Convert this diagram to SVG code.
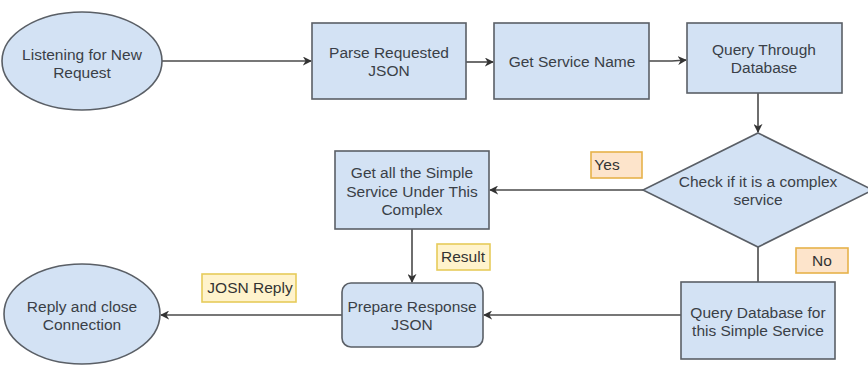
<svg xmlns="http://www.w3.org/2000/svg" width="868" height="365" viewBox="0 0 868 365">
  <style>
    .node { fill: #d3e2f4; stroke: #5a5f66; stroke-width: 1.6; }
    .txt { font-family: "Liberation Sans", Arial, sans-serif; font-size: 15.5px; fill: #3a3f47; text-anchor: middle; }
    .edge { fill: none; stroke: #4a4a4a; stroke-width: 1.6; }
    .lbl-orange { fill: #fde4cb; stroke: #e7b24a; stroke-width: 1.6; }
    .lbl-yellow { fill: #fff3cc; stroke: #e6cb5a; stroke-width: 1.6; }
    .lbl-txt { font-family: "Liberation Sans", Arial, sans-serif; font-size: 15.5px; fill: #333; text-anchor: middle; }
  </style>
  <defs>
    <marker id="arrow" viewBox="0 0 10 10" refX="9" refY="5" markerWidth="9" markerHeight="9" markerUnits="userSpaceOnUse" orient="auto">
      <path d="M0,0 L10,5 L0,10 L3,5 z" fill="#333"/>
    </marker>
  </defs>
  <rect width="868" height="365" fill="#ffffff"/>

  <!-- connectors -->
  <g id="connectors">
    <line class="edge" x1="162" y1="61" x2="311" y2="61" marker-end="url(#arrow)"/>
    <line class="edge" x1="466" y1="62" x2="493" y2="62" marker-end="url(#arrow)"/>
    <polyline class="edge" points="649,61 672,61 686,60" marker-end="url(#arrow)"/>
    <line class="edge" x1="758" y1="93" x2="758" y2="132" marker-end="url(#arrow)"/>
    <line class="edge" x1="643" y1="190" x2="490" y2="190" marker-end="url(#arrow)"/>
    <line class="edge" x1="412" y1="229" x2="412" y2="282" marker-end="url(#arrow)"/>
    <line class="edge" x1="758" y1="247" x2="758" y2="282"/>
    <line class="edge" x1="681" y1="315" x2="484" y2="315" marker-end="url(#arrow)"/>
    <line class="edge" x1="342" y1="315" x2="161" y2="315" marker-end="url(#arrow)"/>
  </g>

  <!-- edge labels -->
  <g id="label-yes">
    <rect class="lbl-orange" x="591" y="152" width="51" height="26"/>
    <text class="lbl-txt" x="607" y="170">Yes</text>
  </g>
  <g id="label-no">
    <rect class="lbl-orange" x="796" y="248" width="52" height="25"/>
    <text class="lbl-txt" x="822" y="266">No</text>
  </g>
  <g id="label-result">
    <rect class="lbl-yellow" x="437" y="244" width="53" height="26"/>
    <text class="lbl-txt" x="463" y="262">Result</text>
  </g>
  <g id="label-reply">
    <rect class="lbl-yellow" x="202" y="274" width="94" height="28"/>
    <text class="lbl-txt" x="250" y="293">JOSN Reply</text>
  </g>

  <!-- nodes -->
  <g id="listening">
    <ellipse class="node" cx="82" cy="61" rx="80" ry="49"/>
    <text class="txt" x="82" y="60">Listening for New</text>
    <text class="txt" x="82" y="78">Request</text>
  </g>
  <g id="parse">
    <rect class="node" x="312" y="23" width="154" height="76"/>
    <text class="txt" x="389" y="58">Parse Requested</text>
    <text class="txt" x="389" y="76">JSON</text>
  </g>
  <g id="service-name">
    <rect class="node" x="494" y="23" width="155" height="76"/>
    <text class="txt" x="572" y="67">Get Service Name</text>
  </g>
  <g id="query-db">
    <rect class="node" x="687" y="23" width="155" height="70"/>
    <text class="txt" x="764" y="55">Query Through</text>
    <text class="txt" x="764" y="73">Database</text>
  </g>
  <g id="check-complex">
    <polygon class="node" points="758,133 873,190 758,247 643,190"/>
    <text class="txt" x="758" y="187">Check if it is a complex</text>
    <text class="txt" x="758" y="205">service</text>
  </g>
  <g id="get-simple">
    <rect class="node" x="335" y="151" width="154" height="78"/>
    <text class="txt" x="412" y="178">Get all the Simple</text>
    <text class="txt" x="412" y="197">Service Under This</text>
    <text class="txt" x="412" y="215">Complex</text>
  </g>
  <g id="prepare">
    <rect class="node" x="342" y="283" width="141" height="64" rx="9" ry="9"/>
    <text class="txt" x="412" y="312">Prepare Response</text>
    <text class="txt" x="412" y="330">JSON</text>
  </g>
  <g id="query-simple">
    <rect class="node" x="681" y="282" width="154" height="77"/>
    <text class="txt" x="758" y="318">Query Database for</text>
    <text class="txt" x="758" y="336">this Simple Service</text>
  </g>
  <g id="reply-close">
    <ellipse class="node" cx="82" cy="314" rx="78" ry="50"/>
    <text class="txt" x="82" y="312">Reply and close</text>
    <text class="txt" x="82" y="330">Connection</text>
  </g>
</svg>
